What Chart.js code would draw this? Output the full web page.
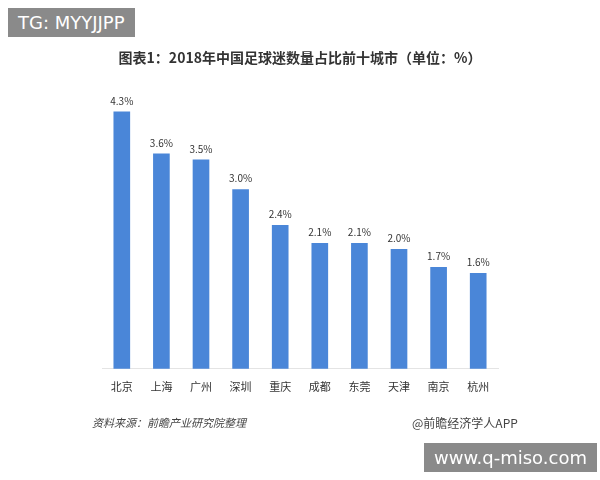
<!DOCTYPE html>
<html><head><meta charset="utf-8">
<script src="https://cdn.jsdelivr.net/npm/chart.js@4"></script>
<style>
body{margin:0;width:600px;height:480px;background:#fff;position:relative;overflow:hidden;font-family:"Noto Sans CJK SC",sans-serif}
#wrap{position:absolute;left:0;top:0;width:600px;height:480px}
.t{position:absolute;white-space:nowrap}
</style></head><body>
<div id="wrap"><canvas id="c" width="600" height="480"></canvas></div>
<div class="t" style="left:8px;top:8px;background:#8a8a8a;color:#fff;font:18px 'DejaVu Sans';padding:4px 10px">TG: MYYJJPP</div>
<div class="t" style="left:0;width:600px;top:47px;text-align:center;font-weight:bold;font-size:14px;color:#333">图表1：2018年中国足球迷数量占比前十城市（单位：%）</div>
<div class="t" style="left:92px;top:414px;font-size:11px;font-style:italic;color:#444">资料来源：前瞻产业研究院整理</div>
<div class="t" style="left:412px;top:414px;font-size:12px;color:#444">@前瞻经济学人APP</div>
<div class="t" style="left:424px;top:443px;background:#8a8a8a;color:#fff;font:18px 'DejaVu Sans';padding:4px 10px">www.q-miso.com</div>
<script>
const cities = ['北京','上海','广州','深圳','重庆','成都','东莞','天津','南京','杭州'];
const shares = [4.3, 3.6, 3.5, 3.0, 2.4, 2.1, 2.1, 2.0, 1.7, 1.6];

const valueLabels = {
    id: 'valueLabels',
    afterDatasetsDraw(chart) {
        const ctx = chart.ctx;
        ctx.save();
        ctx.font = '10px "Noto Sans CJK SC"';
        ctx.fillStyle = '#333';
        ctx.textAlign = 'center';
        ctx.textBaseline = 'bottom';
        chart.getDatasetMeta(0).data.forEach((bar, i) => {
            ctx.fillText(shares[i].toFixed(1) + '%', bar.x, bar.y - 6);
        });
        ctx.restore();
    }
};

new Chart(document.getElementById('c'), {
    type: 'bar',
    data: {
        labels: cities,
        datasets: [{
            data: shares,
            backgroundColor: '#4a86d8',
            barThickness: 16
        }]
    },
    options: {
        responsive: false,
        animation: false,
        layout: {padding: {left: 102, right: 102, top: 94, bottom: 84}},
        plugins: {legend: {display: false}, tooltip: {enabled: false}},
        scales: {
            x: {
                grid: {display: false},
                border: {color: '#e4e4e4'},
                ticks: {color: '#333', font: {size: 11, family: 'Noto Sans CJK SC'}}
            },
            y: {display: false, min: 0, max: 4.6}
        }
    },
    plugins: [valueLabels]
});
</script>
</body></html>
